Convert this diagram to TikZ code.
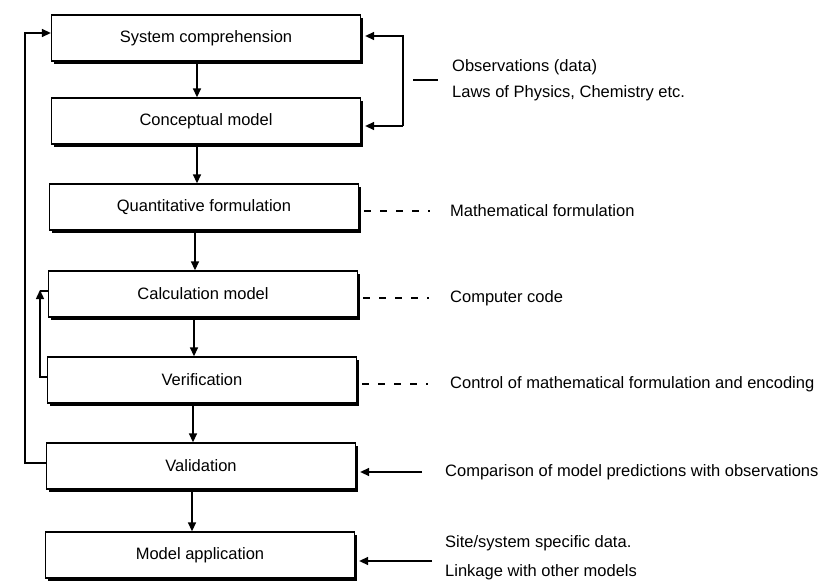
\documentclass[tikz,border=0pt]{standalone}
\usepackage{fontspec}
\setmainfont{Liberation Sans}
\usetikzlibrary{arrows.meta,shadows}

\begin{document}
\begin{tikzpicture}[x=1pt,y=-1pt,
  font=\fontsize{16.5}{19}\selectfont,
  stage/.style={draw, line width=1.3pt, fill=white, minimum width=309pt,
    minimum height=46pt, inner sep=0pt,
    drop shadow={shadow xshift=2.6pt, shadow yshift=-2.6pt, fill=black, opacity=1}},
  flow/.style={line width=1.4pt, -{Triangle[length=9pt,width=8pt]}},
  link/.style={line width=1.4pt},
  note/.style={anchor=west, inner sep=0pt},
  dotdash/.style={line width=2.2pt,
    dash pattern=on 7pt off 9pt on 7pt off 9pt on 7pt off 9pt on 7pt off 9pt on 2pt off 100pt}]

\useasboundingbox (0,0) rectangle (839,584);

% main chain of stages
\node[stage] (b1) at (206,38)  {System comprehension};
\node[stage] (b2) at (206,121) {Conceptual model};
\node[stage] (b3) at (204,207) {Quantitative formulation};
\node[stage] (b4) at (203,294) {Calculation model};
\node[stage] (b5) at (202,380) {Verification};
\node[stage] (b6) at (201,466) {Validation};
\node[stage] (b7) at (200,555) {Model application};

% downward arrows between stages
\foreach \a/\b/\s in {b1/b2/9,b2/b3/9,b3/b4/9,b4/b5/9,b5/b6/9,b6/b7/9}
  \draw[flow] ([xshift=-\s pt]\a.south) -- ([xshift=-\s pt]\a.south |- \b.north);

% outer feedback: validation back to system comprehension
\coordinate (ob) at (25,463);
\coordinate (ot) at (25,33);
\draw[flow] ([yshift=3pt]b6.west) -- (ob) -- (ot) -- (ot -| b1.west);

% inner feedback: verification back to calculation model
\coordinate (ib) at (40,377);
\coordinate (it) at (40,291);
\draw[flow] ([yshift=3pt]b5.west) -- (ib) -- ([yshift=1pt]it);
\draw[link] (it) -- (it -| b4.west);

% observations and laws feed the first two stages
\coordinate (rt) at (403,36);
\coordinate (rb) at (403,126);
\draw[flow, shorten >=4pt] (rb) -- (rt) -- (rt -| b1.east);
\draw[flow, shorten >=4pt] (rb) -- (rb -| b2.east);
\coordinate (tk1) at (413,80);
\coordinate (tk2) at (438,80);
\draw[line width=1.8pt] (tk1) -- (tk2);
\node[note] (obs) at (452,67) {Observations (data)};
\node[note] (law) at (452,93) {Laws of Physics, Chemistry etc.};

% dashed annotations
\node[note] (mf) at (450,211) {Mathematical formulation};
\node[note] (cc) at (450,298) {Computer code};
\node[note] (cm) at (450,384) {Control of mathematical formulation and encoding};
\draw[dotdash] ([xshift=5pt]b3.east |- mf.west) -- ([xshift=-14pt]mf.west);
\draw[dotdash] ([xshift=5pt]b4.east |- cc.west) -- ([xshift=-14pt]cc.west);
\draw[dotdash] ([xshift=5pt]b5.east |- cm.west) -- ([xshift=-14pt]cm.west);

% inputs to validation and application
\node[note] (cmp) at (445,472) {Comparison of model predictions with observations};
\draw[flow, shorten >=4pt] ([xshift=-23pt]cmp.west) -- (cmp.west -| b6.east);
\node[note] (site) at (445,543) {Site/system specific data.};
\node[note] (lnk) at (445,572) {Linkage with other models};
\coordinate (ai) at (432,561);
\draw[flow, shorten >=4pt] (ai) -- (ai -| b7.east);
\end{tikzpicture}
\end{document}
